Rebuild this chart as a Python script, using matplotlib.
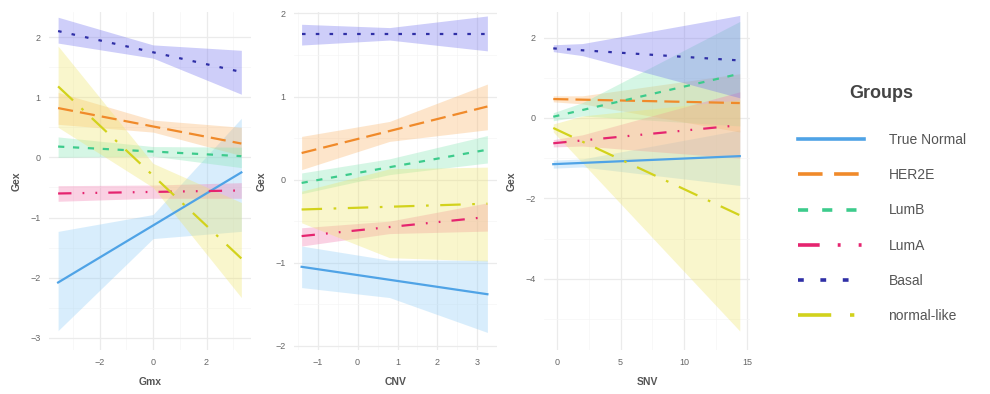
import matplotlib
matplotlib.use("Agg")
import matplotlib.pyplot as plt
from matplotlib.ticker import MultipleLocator

plt.rcParams['font.family'] = ['Liberation Sans', 'DejaVu Sans']

groups = ["True Normal", "HER2E", "LumB", "LumA", "Basal", "normal-like"]
line_colors = ["#4FA3E6", "#F08A2A", "#3DCB8C", "#E5246F", "#2F2FA6", "#D2D21C"]
band_colors = ["#8FCDF7", "#FBB468", "#86E6B4", "#F27AAE", "#7070F0", "#EFE56A"]

# Gmx panel: fitted line ends and band edges at three x knots
gmx_x = [-3.55, 3.3]
gmx_start = [-2.08, 0.82, 0.18, -0.60, 2.10, 1.18]
gmx_end = [-0.25, 0.23, 0.02, -0.55, 1.42, -1.68]
gmx_knots = [-3.55, 0.0, 3.3]
gmx_lo = [[-2.88, -1.35, -1.23], [0.55, 0.42, 0.03], [0.00, 0.02, -0.17],
          [-0.73, -0.68, -0.68], [1.90, 1.65, 1.05], [0.50, -0.50, -2.33]]
gmx_hi = [[-1.23, -0.95, 0.65], [1.08, 0.62, 0.50], [0.34, 0.18, 0.17],
          [-0.47, -0.46, -0.42], [2.33, 1.87, 1.78], [1.85, -0.10, -0.75]]

# CNV panel
cnv_x = [-1.4, 3.25]
cnv_start = [-1.05, 0.32, -0.04, -0.68, 1.75, -0.36]
cnv_end = [-1.38, 0.88, 0.36, -0.45, 1.75, -0.29]
cnv_knots = [-1.4, 0.8, 3.25]
cnv_lo = [[-1.30, -1.42, -1.84], [0.12, 0.46, 0.60], [-0.17, 0.06, 0.20],
          [-0.80, -0.65, -0.62], [1.62, 1.68, 1.55], [-0.52, -0.94, -0.98]]
cnv_hi = [[-0.80, -0.97, -0.97], [0.52, 0.70, 1.15], [0.08, 0.25, 0.53],
          [-0.58, -0.50, -0.28], [1.87, 1.83, 1.97], [-0.14, 0.13, 0.15]]

# SNV panel
snv_x = [-0.3, 14.4]
snv_start = [-1.15, 0.47, 0.03, -0.63, 1.73, -0.25]
snv_end = [-0.95, 0.37, 1.10, -0.18, 1.43, -2.42]
snv_knots = [-0.3, 2.0, 14.4]
snv_lo = [[-1.25, -1.22, -1.68], [0.40, 0.35, -0.35], [-0.07, 0.05, -0.20],
          [-0.72, -0.70, -1.00], [1.65, 1.55, 0.50], [-0.35, -1.12, -5.30]]
snv_hi = [[-1.05, -1.02, -0.30], [0.55, 0.55, 1.10], [0.13, 0.38, 2.40],
          [-0.54, -0.42, 0.65], [1.82, 1.85, 2.55], [-0.15, 0.05, 0.45]]

styles = ["-", (0, (6.8, 3.2)), (0, (2.8, 3.9)),
          (0, (6.0, 5.0, 0.8, 5.0, 0.8, 5.0)), (0, (1.6, 4.6)),
          (0, (9.2, 5.2, 1.2, 5.2))]

fig = plt.figure(figsize=(9.9, 3.94), dpi=100)

panels = [
    ("Gmx", gmx_x, gmx_start, gmx_end, gmx_knots, gmx_lo, gmx_hi,
     [0.0495, 0.112, 0.204, 0.858], (-3.89, 3.66), (-3.2, 2.42), 2, 1),
    ("CNV", cnv_x, cnv_start, cnv_end, cnv_knots, cnv_lo, cnv_hi,
     [0.297, 0.112, 0.205, 0.858], (-1.59, 3.49), (-2.05, 2.02), 1, 1),
    ("SNV", snv_x, snv_start, snv_end, snv_knots, snv_lo, snv_hi,
     [0.5495, 0.112, 0.208, 0.858], (-1.03, 15.2), (-5.77, 2.64), 5, 2),
]

handles = []
for name, xs, st, en, knots, lo, hi, pos, xl, yl, xstep, ystep in panels:
    ax = fig.add_axes(pos)
    for i, g in enumerate(groups):
        ax.fill_between(knots, lo[i], hi[i], color=band_colors[i],
                        alpha=0.34, linewidth=0, zorder=2)
    for i, g in enumerate(groups):
        ln, = ax.plot(xs, [st[i], en[i]], color=line_colors[i],
                      linestyle=styles[i], linewidth=1.6, zorder=3, label=g)
        if name == "Gmx":
            handles.append(ln)
    ax.set_xlim(*xl)
    ax.set_ylim(*yl)
    ax.xaxis.set_major_locator(MultipleLocator(xstep))
    ax.yaxis.set_major_locator(MultipleLocator(ystep))
    ax.xaxis.set_minor_locator(MultipleLocator(xstep / 2))
    ax.yaxis.set_minor_locator(MultipleLocator(ystep / 2))
    ax.grid(True, which="major", color="#EBEBEB", linewidth=0.9, zorder=0)
    ax.grid(True, which="minor", color="#F5F5F5", linewidth=0.5, zorder=0)
    ax.set_axisbelow(True)
    for s in ax.spines.values():
        s.set_visible(False)
    ax.tick_params(which="both", length=0, labelsize=6.5, colors="#666666", pad=6)
    ax.set_xlabel(name, fontsize=7.5, fontweight="bold", color="#555555", labelpad=7)
    ax.set_ylabel("Gex", fontsize=7.5, fontweight="bold", color="#555555", labelpad=6)

leg = fig.legend(handles=handles, labels=groups, loc="upper left",
                 bbox_to_anchor=(0.793, 0.815), frameon=False,
                 title="Groups", fontsize=10, handlelength=4.8,
                 handletextpad=1.75, labelspacing=1.53)
leg.get_title().set_fontsize(13)
leg.get_title().set_fontweight("bold")
leg.get_title().set_color("#444444")
for t in leg.get_texts():
    t.set_color("#555555")
for h in leg.legend_handles:
    h.set_linewidth(2.6)
leg._legend_box.sep = 22

fig.savefig("out.png", dpi=100)
